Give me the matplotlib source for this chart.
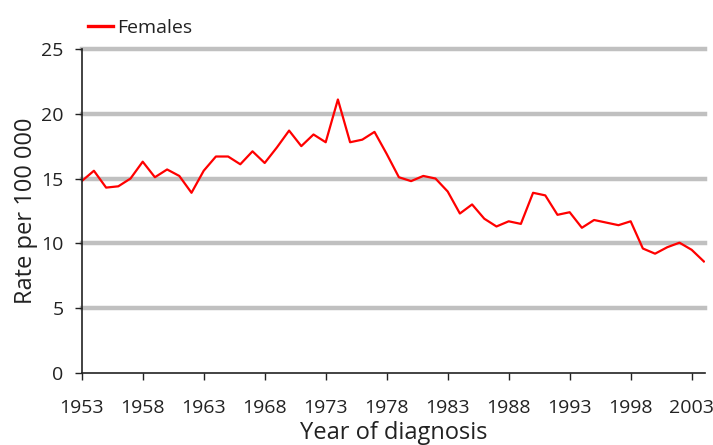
import matplotlib
matplotlib.use("Agg")
import matplotlib.pyplot as plt

plt.rcParams['font.family'] = ['Open Sans', 'DejaVu Sans']

years = list(range(1953, 2005))
females = [14.8, 15.6, 14.3, 14.4, 15.0, 16.3, 15.1, 15.7, 15.2, 13.9,
           15.6, 16.7, 16.7, 16.1, 17.1, 16.2, 17.4, 18.7, 17.5, 18.4,
           17.8, 21.1, 17.8, 18.0, 18.6, 16.9, 15.1, 14.8, 15.2, 15.0,
           14.0, 12.3, 13.0, 11.9, 11.3, 11.7, 11.5, 13.9, 13.7, 12.2,
           12.4, 11.2, 11.8, 11.6, 11.4, 11.7, 9.6, 9.2, 9.7, 10.05,
           9.5, 8.6]
xticks = list(range(1953, 2004, 5))
yticks = [0, 5, 10, 15, 20, 25]

fig = plt.figure(figsize=(7.13, 4.45), dpi=100)
ax = fig.add_axes([0.1146, 0.162, 0.8743, 0.728])

# horizontal grey bands (no line at zero)
for v in yticks[1:]:
    ax.axhline(v, color='#c0c0c0', lw=3.2, zorder=1, clip_on=False)

ax.plot(years, females, color='#ff0000', lw=1.6, label='Females', zorder=3)

ax.set_xlim(1953, 2004.1)
ax.set_ylim(0, 25)
ax.set_xticks(xticks)
ax.set_yticks(yticks)
ax.tick_params(direction='out', length=5, width=1, labelsize=14, colors='#222222')
ax.tick_params(axis='x', pad=14)
ax.tick_params(axis='y', pad=8)

for s in ['top', 'right']:
    ax.spines[s].set_visible(False)
for s in ['left', 'bottom']:
    ax.spines[s].set_linewidth(1.2)
    ax.spines[s].set_color('#222222')
    ax.spines[s].set_zorder(4)

ax.set_xlabel('Year of diagnosis', fontsize=17, labelpad=3, color='#222222')
ax.set_ylabel('Rate per 100 000', fontsize=17, labelpad=2, color='#222222')

leg = ax.legend(loc='lower left', bbox_to_anchor=(0.007, 1.03), frameon=False,
                handlelength=1.3, handletextpad=0.2, fontsize=14,
                borderaxespad=0, borderpad=0.1, labelcolor='#222222')
for h in leg.get_lines():
    h.set_linewidth(2.4)

fig.savefig('out.png', dpi=100)
